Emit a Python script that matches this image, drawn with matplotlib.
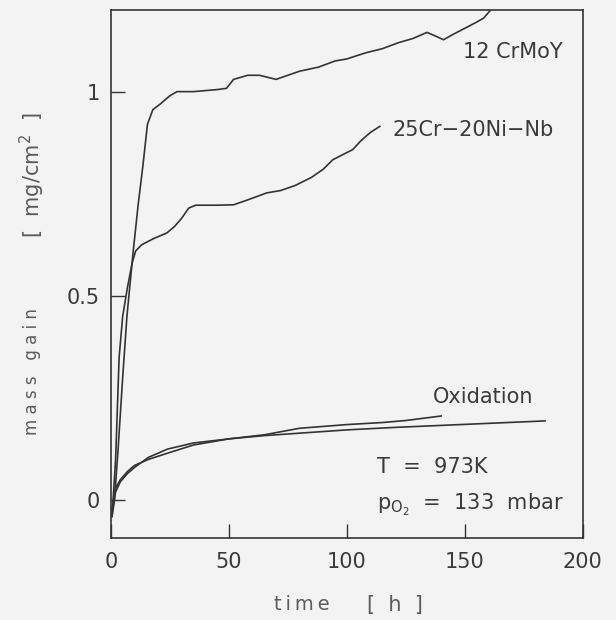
import numpy as np
import matplotlib
matplotlib.use("Agg")
import matplotlib.pyplot as plt

# 12 CrMoY
t_crmoy = [0.5, 1.5, 3, 5, 6.8, 9.3, 11.5, 13.6, 15.5, 17.8, 21, 25, 28, 35, 45, 49,
           52, 58, 63, 70, 75, 80, 88, 95, 100, 108, 115, 122, 128, 134, 138, 141,
           145, 150, 155, 158, 161]
m_crmoy = [-0.04, 0.0, 0.12, 0.3, 0.45, 0.6, 0.72, 0.82, 0.92, 0.956, 0.97, 0.99, 1.0,
           1.0, 1.005, 1.008, 1.03, 1.04, 1.04, 1.03, 1.04, 1.05, 1.06, 1.075, 1.08,
           1.095, 1.105, 1.12, 1.13, 1.145, 1.135, 1.127, 1.14, 1.155, 1.17, 1.18, 1.2]

# 25Cr-20Ni-Nb
t_crni = [0.5, 2, 3.5, 5, 7, 9, 10.5, 13, 18, 23.7, 27, 30, 33, 36, 45, 52, 58, 66,
          72, 78, 85, 90, 94, 98, 102.5, 106, 110, 114]
m_crni = [-0.04, 0.1, 0.35, 0.45, 0.52, 0.58, 0.61, 0.625, 0.64, 0.654, 0.67, 0.69,
          0.715, 0.722, 0.722, 0.723, 0.735, 0.752, 0.758, 0.77, 0.79, 0.81, 0.833,
          0.845, 0.858, 0.88, 0.9, 0.915]

# Oxidation, two runs
t_ox1 = [0.5, 2, 4, 7, 10, 16, 24, 35, 50, 65, 80, 100, 115, 125, 140]
m_ox1 = [-0.03, 0.02, 0.045, 0.065, 0.08, 0.105, 0.125, 0.14, 0.15, 0.16, 0.176,
         0.185, 0.19, 0.195, 0.206]
t_ox2 = [0.5, 2, 4, 7, 10, 16, 24, 35, 50, 65, 80, 100, 120, 140, 160, 184]
m_ox2 = [-0.02, 0.03, 0.05, 0.07, 0.085, 0.1, 0.115, 0.135, 0.15, 0.158, 0.164,
         0.172, 0.178, 0.183, 0.188, 0.194]

x_ticks = [0, 50, 100, 150, 200]
y_ticks = [0, 0.5, 1]
y_ticklabels = ["0", "0.5", "1"]

bg = "#f3f3f3"
ink = "#333333"
txt = "#3a3a3a"

fig = plt.figure(figsize=(6.16, 6.20), dpi=100, facecolor=bg)
ax = fig.add_axes([0.180, 0.132, 0.766, 0.852])
ax.set_facecolor(bg)

for t, m in [(t_crmoy, m_crmoy), (t_crni, m_crni), (t_ox1, m_ox1), (t_ox2, m_ox2)]:
    ax.plot(t, m, color=ink, lw=1.2)

ax.set_xlim(0, 200)
ax.set_ylim(-0.093, 1.2)
ax.set_xticks(x_ticks)
ax.set_yticks(y_ticks)
ax.set_yticklabels(y_ticklabels)
ax.tick_params(direction="in", length=10, width=1.0, color=ink,
               labelsize=15, labelcolor=txt)
ax.tick_params(axis="x", pad=10)
ax.tick_params(axis="y", pad=8)
for s in ax.spines.values():
    s.set_color(ink)
    s.set_linewidth(1.2)

ax.text(149.2, 1.098, "12 CrMoY", fontsize=15, color=txt, va="center")
ax.text(119.5, 0.907, "25Cr\u221220Ni\u2212Nb", fontsize=15, color=txt, va="center")
ax.text(136.4, 0.252, "Oxidation", fontsize=15, color=txt, va="center")
ax.text(113, 0.081, "T  =  973K", fontsize=15, color=txt, va="center")
ax.text(112.7, -0.012, r"$\mathregular{p_{O_2}}$  =  133  mbar", fontsize=15,
        color=txt, va="center")

lab = "#5a5a5a"
fig.text(0.052, 1 - 372 / 620, "m a s s   g a i n", rotation=90, fontsize=12,
         color=lab, ha="center", va="center")
fig.text(0.052, 1 - 175 / 620, r"[  mg/cm$^2$  ]", rotation=90, fontsize=15,
         color=lab, ha="center", va="center")
fig.text(302 / 616, 1 - 605 / 620, "t\u2009i\u2009m\u2009e", fontsize=14,
         color=lab, ha="center", va="center")
fig.text(395 / 616, 1 - 605 / 620, "[  h  ]", fontsize=15,
         color=lab, ha="center", va="center")

fig.savefig("out.png", dpi=100, facecolor=bg)
